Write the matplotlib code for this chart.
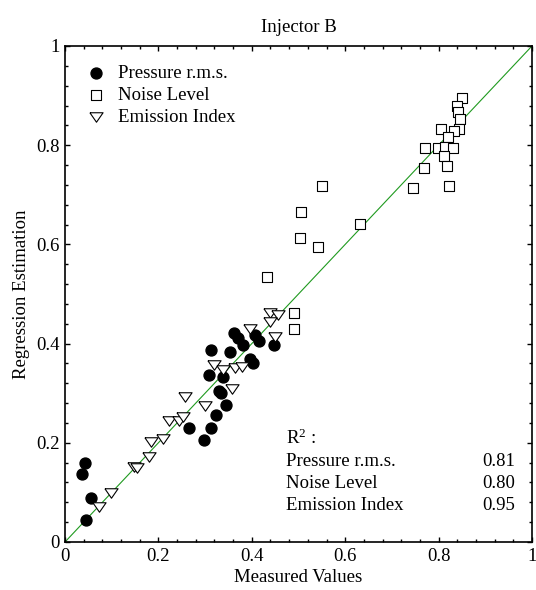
import numpy as np
import matplotlib
matplotlib.use("Agg")
import matplotlib.pyplot as plt
from matplotlib.ticker import MultipleLocator

plt.rcParams['font.family'] = ['Liberation Serif', 'DejaVu Serif']
plt.rcParams['mathtext.fontset'] = 'custom'
plt.rcParams['mathtext.rm'] = 'Liberation Serif'
plt.rcParams['mathtext.default'] = 'rm'

# Pressure r.m.s. (filled circles)
pres_x = [0.043, 0.037, 0.055, 0.045, 0.266, 0.297, 0.312, 0.323, 0.345, 0.329,
          0.334, 0.308, 0.338, 0.312, 0.353, 0.361, 0.370, 0.381, 0.397, 0.402,
          0.406, 0.415, 0.447]
pres_y = [0.160, 0.138, 0.088, 0.044, 0.230, 0.206, 0.230, 0.256, 0.276, 0.305,
          0.300, 0.337, 0.333, 0.387, 0.384, 0.421, 0.411, 0.397, 0.368, 0.360,
          0.417, 0.406, 0.397]

# Noise Level (open squares)
noise_x = [0.433, 0.490, 0.490, 0.551, 0.506, 0.504, 0.541, 0.632, 0.850, 0.839,
           0.842, 0.846, 0.844, 0.833, 0.805, 0.821, 0.771, 0.798, 0.814, 0.830,
           0.812, 0.817, 0.769, 0.746, 0.823]
noise_y = [0.534, 0.461, 0.429, 0.718, 0.666, 0.612, 0.595, 0.642, 0.895, 0.879,
           0.866, 0.853, 0.832, 0.829, 0.832, 0.816, 0.794, 0.795, 0.797, 0.794,
           0.778, 0.758, 0.755, 0.713, 0.718]

# Emission Index (open down triangles)
emis_x = [0.073, 0.098, 0.147, 0.154, 0.179, 0.185, 0.209, 0.223, 0.244, 0.253,
          0.256, 0.299, 0.319, 0.338, 0.358, 0.363, 0.380, 0.397, 0.440, 0.456,
          0.438, 0.449]
emis_y = [0.071, 0.099, 0.152, 0.150, 0.171, 0.202, 0.207, 0.243, 0.243, 0.253,
          0.292, 0.274, 0.357, 0.347, 0.308, 0.350, 0.353, 0.429, 0.461, 0.458,
          0.444, 0.414]

r2_names = ['Pressure r.m.s.', 'Noise Level', 'Emission Index']
r2_vals = ['0.81', '0.80', '0.95']

fs = 13.5
fig = plt.figure(figsize=(5.36, 5.9), dpi=100)
ax = fig.add_axes([65/536, 1-542/590, 467/536, 496/590])

# wide, flat downward triangle
tri = [(-1, 0.72), (1, 0.72), (0, -0.72), (-1, 0.72)]

ax.plot([0, 1], [0, 1], color='#1f9a1f', lw=0.8, zorder=1)
ax.scatter(pres_x, pres_y, s=62, marker='o', c='black', zorder=2,
           label='Pressure r.m.s.')
ax.scatter(noise_x, noise_y, s=44, marker='s', facecolors='white',
           edgecolors='black', linewidths=0.8, zorder=3, label='Noise Level')
ax.scatter(emis_x, emis_y, s=90, marker=tri, facecolors='white',
           edgecolors='black', linewidths=0.8, zorder=4, label='Emission Index')

ax.set_xlim(0, 1)
ax.set_ylim(0, 1)
ax.xaxis.set_major_locator(MultipleLocator(0.2))
ax.yaxis.set_major_locator(MultipleLocator(0.2))
ax.xaxis.set_minor_locator(MultipleLocator(0.04))
ax.yaxis.set_minor_locator(MultipleLocator(0.04))
ax.xaxis.set_major_formatter(plt.FuncFormatter(lambda v, p: '%g' % round(v, 2)))
ax.yaxis.set_major_formatter(plt.FuncFormatter(lambda v, p: '%g' % round(v, 2)))
ax.tick_params(which='both', direction='in', top=True, right=True,
               labelsize=fs, width=1.0)
ax.tick_params(which='major', length=3.5, pad=4)
ax.tick_params(which='minor', length=2)
for s in ax.spines.values():
    s.set_linewidth(1.2)

ax.set_title('Injector B', fontsize=fs, pad=10)
ax.set_xlabel('Measured Values', fontsize=fs, labelpad=3)
ax.set_ylabel('Regression Estimation', fontsize=fs, labelpad=4)

ax.legend(loc='upper left', bbox_to_anchor=(22/468, 0.962), frameon=False,
          fontsize=fs, handlelength=1.0, handletextpad=0.65, labelspacing=0.25,
          borderpad=0, borderaxespad=0, scatterpoints=1)

ax.text(0.474, 0.21, r'R$^2$ :', fontsize=fs, transform=ax.transAxes,
        va='center', ha='left')
for i in range(3):
    yy = 0.162 - i * 0.0445
    ax.text(0.474, yy, r2_names[i], fontsize=fs, transform=ax.transAxes,
            va='center', ha='left')
    ax.text(0.964, yy, r2_vals[i], fontsize=fs, transform=ax.transAxes,
            va='center', ha='right')

fig.savefig('out.png', dpi=100)
